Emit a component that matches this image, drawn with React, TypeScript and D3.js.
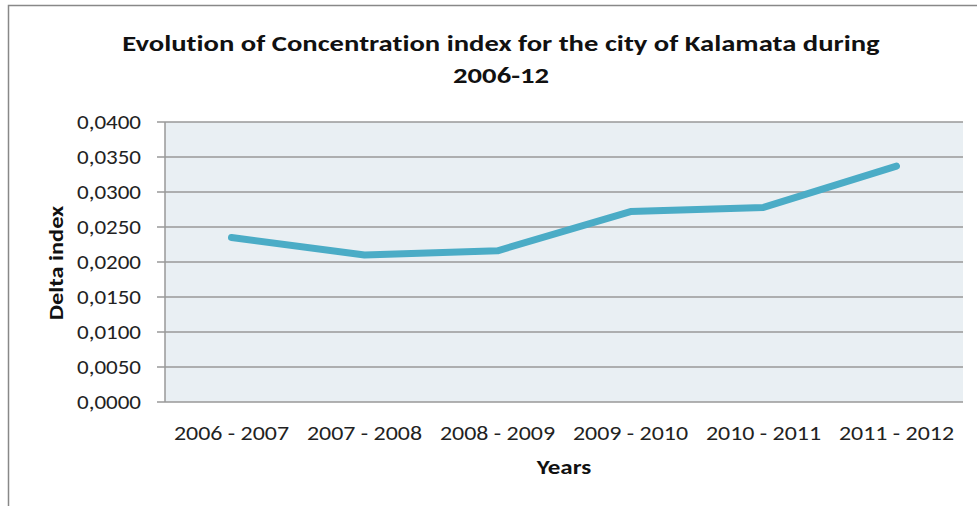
import React from "react";
import * as d3 from "d3";

const categories = ["2006 - 2007", "2007 - 2008", "2008 - 2009", "2009 - 2010", "2010 - 2011", "2011 - 2012"];
const values = [0.0235, 0.0210, 0.0216, 0.0272, 0.0278, 0.0337];
const yTicks = [0, 0.005, 0.01, 0.015, 0.02, 0.025, 0.03, 0.035, 0.04];
const titleLines = ["Evolution of Concentration index for the city of Kalamata during", "2006-12"];

const W = 977, H = 506;
const plot = { left: 165, right: 963, top: 122, bottom: 402 };
const FONT = "Carlito, Lato, 'Open Sans', sans-serif";

type TProps = {
  x: number; y: number; sx: number; size: number; bold?: boolean;
  anchor?: "start" | "middle" | "end"; rotate?: number; children: React.ReactNode;
};
function T({ x, y, sx, size, bold, anchor = "middle", rotate = 0, children }: TProps) {
  return (
    <text
      transform={`translate(${x},${y}) rotate(${rotate}) scale(${sx},1)`}
      textAnchor={anchor}
      fontSize={size}
      fontWeight={bold ? "bold" : "normal"}
      fill={bold ? "#111" : "#222"}
      style={{ fontVariantLigatures: "none", fontFeatureSettings: "'liga' 0" }}
    >
      {children}
    </text>
  );
}

export default function App() {
  const x = d3.scaleBand().domain(categories).range([plot.left, plot.right]);
  const y = d3.scaleLinear().domain([0, 0.04]).range([plot.bottom, plot.top]);
  const line = d3.line<number>()
    .x((_, i) => (x(categories[i]) as number) + x.bandwidth() / 2)
    .y((d) => y(d));
  const fmt = (v: number) => v.toFixed(4).replace(".", ",");
  return (
    <svg width={W} height={H} style={{ position: "absolute", left: 0, top: 0 }} fontFamily={FONT}>
      <rect x={0} y={0} width={W} height={H} fill="#fff" />
      <rect x={8.5} y={5.5} width={W + 10} height={H + 10} fill="none" stroke="#888" strokeWidth={1.5} />
      <rect x={plot.left} y={plot.top} width={plot.right - plot.left} height={plot.bottom - plot.top} fill="#E9EFF3" />
      {yTicks.map((t) => (
        <g key={t}>
          <line x1={plot.left} x2={plot.right} y1={y(t)} y2={y(t)} stroke="#999" strokeWidth={1.5} />
          <line x1={plot.left - 8} x2={plot.left} y1={y(t)} y2={y(t)} stroke="#999" strokeWidth={1.5} />
          <T x={141} y={y(t) + 6.5} sx={1.18} size={19.5} anchor="end">{fmt(t)}</T>
        </g>
      ))}
      <line x1={plot.left} x2={plot.left} y1={plot.top} y2={plot.bottom} stroke="#999" strokeWidth={1.5} />
      {categories.map((c) => (
        <T key={c} x={(x(c) as number) + x.bandwidth() / 2} y={440} sx={1.14} size={21}>{c}</T>
      ))}
      <path d={line(values) || ""} fill="none" stroke="#4BACC6" strokeWidth={7} strokeLinecap="round" strokeLinejoin="round" />
      {titleLines.map((t, i) => (
        <T key={i} x={501} y={51 + i * 32} sx={1.245} size={23} bold>{t}</T>
      ))}
      <T x={564} y={474} sx={1.25} size={20} bold>Years</T>
      <T x={63} y={263} sx={1.25} size={19.5} bold rotate={-90}>Delta index</T>
    </svg>
  );
}
